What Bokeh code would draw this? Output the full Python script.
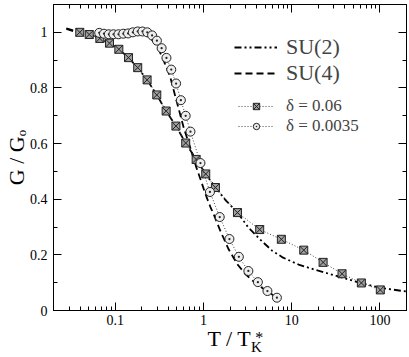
import math
from bokeh.plotting import figure
from bokeh.models import (FixedTicker, LogAxis, LinearAxis, Legend, LegendItem,
                          CustomJSTickFormatter)
from bokeh.embed import file_html
from bokeh.resources import INLINE

# ---- data ----
su2_T = [0.028, 0.0397, 0.0508, 0.067, 0.0862, 0.11, 0.1416, 0.18, 0.23, 0.296, 0.378, 0.488,
         0.63, 0.827, 1.06, 1.37, 1.8, 2.43, 3.2, 4.3, 6.0, 8.0, 12, 20, 35, 60, 100, 200]
su2_G = [1.014, 1.0, 0.992, 0.978, 0.961, 0.939, 0.909, 0.873, 0.829, 0.775, 0.717, 0.663,
         0.602, 0.543, 0.491, 0.442, 0.395, 0.352, 0.30, 0.258, 0.215, 0.19, 0.165, 0.143, 0.121, 0.099, 0.082, 0.068]

su4_T = [0.028, 0.04, 0.055, 0.07, 0.09, 0.12, 0.15, 0.19, 0.23, 0.27, 0.31, 0.36, 0.42, 0.48,
         0.55, 0.6, 0.71, 0.82, 0.93, 1.05, 1.2, 1.31, 1.56, 1.93, 2.4, 3.0, 4.0, 5.3, 6.2]
su4_G = [1.012, 0.996, 0.988, 0.984, 0.983, 0.986, 0.991, 0.995, 0.99, 0.968, 0.94, 0.893, 0.84, 0.77,
         0.70, 0.655, 0.585, 0.52, 0.47, 0.42, 0.372, 0.345, 0.285, 0.22, 0.168, 0.13, 0.095, 0.068, 0.055]

d06_T = [0.0397, 0.0508, 0.067, 0.0862, 0.11, 0.1416, 0.18, 0.23, 0.296, 0.378, 0.488, 0.63,
         0.827, 1.062, 1.367, 2.43, 4.34, 7.64, 13.7, 22.7, 37.2, 61.6, 101]
d06_G = [1.0, 0.992, 0.978, 0.961, 0.939, 0.909, 0.873, 0.829, 0.775, 0.717, 0.663, 0.602,
         0.543, 0.491, 0.442, 0.352, 0.291, 0.256, 0.217, 0.173, 0.132, 0.099, 0.074]

d0035_T = [0.0659, 0.0746, 0.0847, 0.0957, 0.109, 0.1236, 0.14, 0.1585, 0.18, 0.204, 0.231, 0.262,
           0.297, 0.336, 0.381, 0.432, 0.49, 0.555, 0.629, 0.713, 0.925, 1.185, 1.53, 1.97, 2.52,
           3.23, 4.14, 5.31, 6.8]
d0035_G = [0.998, 0.995, 0.993, 0.993, 0.993, 0.995, 0.996, 1.0, 1.003, 1.003, 1.0, 0.989,
           0.970, 0.943, 0.908, 0.866, 0.816, 0.756, 0.700, 0.643, 0.530, 0.426, 0.336, 0.257, 0.193,
           0.142, 0.102, 0.070, 0.046]

x_ticks = [0.1, 1, 10, 100]
x_tick_labels = ["0.1", "1", "10", "100"]
x_minor = [0.02, 0.03, 0.04, 0.05, 0.06, 0.07, 0.08, 0.09,
           0.2, 0.3, 0.4, 0.5, 0.6, 0.7, 0.8, 0.9,
           2, 3, 4, 5, 6, 7, 8, 9,
           20, 30, 40, 50, 60, 70, 80, 90, 200]
y_ticks = [0, 0.2, 0.4, 0.6, 0.8, 1.0]
y_tick_labels = ["0", "0.2", "0.4", "0.6", "0.8", "1"]
y_minor = [0.1, 0.3, 0.5, 0.7, 0.9]

x_title, x_title_sup, x_title_sub = "T / T", "*", "K"
y_title = "G / G\u2092"
legend_labels = ["SU(2)", "SU(4)", "δ = 0.06", "δ = 0.0035"]

FONT = "Liberation Serif"
X0, X1, Y0, Y1 = 0.02, 200, 0.0, 1.1
FL, FT, FR, FB, W, H = 52, 3, 407, 313, 409, 357   # frame edges in canvas pixels

p = figure(width=W, height=H, x_axis_type="log", x_range=(X0, X1), y_range=(Y0, Y1),
           output_backend="svg", toolbar_location=None,
           min_border_left=FL, min_border_right=W - FR, min_border_top=FT, min_border_bottom=H - FB)
p.grid.visible = False
p.outline_line_color = "black"
p.outline_line_width = 1
p.background_fill_color = "white"
p.border_fill_color = "white"

def px_to_x(px):
    return 10 ** (math.log10(X0) + (px - FL) * (math.log10(X1) - math.log10(X0)) / (FR - FL))

xt = FixedTicker(ticks=x_ticks, minor_ticks=x_minor)
yt = FixedTicker(ticks=y_ticks, minor_ticks=y_minor)

fmt_code = "const i = tvals.indexOf(tick); return i >= 0 ? tlabs[i] : '';"

def style_axis(ax, tv, tl):
    ax.axis_line_color = "black"
    ax.major_tick_in = 8
    ax.major_tick_out = 0
    ax.minor_tick_in = 4
    ax.minor_tick_out = 0
    ax.major_tick_line_color = "black"
    ax.minor_tick_line_color = "black"
    ax.major_label_text_font = FONT
    ax.major_label_text_color = "black"
    ax.major_label_text_font_size = "14px"
    ax.formatter = CustomJSTickFormatter(args=dict(tvals=tv, tlabs=tl), code=fmt_code)

xa = p.xaxis[0]
xa.ticker = xt
style_axis(xa, x_ticks, x_tick_labels)
xa.major_label_standoff = 4

ya = p.yaxis[0]
ya.ticker = yt
style_axis(ya, y_ticks, y_tick_labels)
ya.major_label_standoff = 6
ya.axis_label = y_title
ya.axis_label_text_font = FONT
ya.axis_label_text_font_size = "22px"
ya.axis_label_text_font_style = "normal"
ya.axis_label_text_color = "black"
ya.axis_label_standoff = -2

top = LogAxis(ticker=xt)
style_axis(top, x_ticks, [" " for _ in x_ticks])
top.major_label_text_font_size = "1px"
top.major_label_standoff = 0
p.add_layout(top, "above")
right = LinearAxis(ticker=yt)
style_axis(right, y_ticks, [" " for _ in y_ticks])
right.major_label_text_font_size = "1px"
right.major_label_standoff = 0
p.add_layout(right, "right")

# ---- x title with super/subscript: stacked text-only axes below the x axis ----
def text_axis(at, text, size, standoff):
    ax = LogAxis()
    ax.ticker = FixedTicker(ticks=[px_to_x(at)], minor_ticks=[])
    ax.formatter = CustomJSTickFormatter(args=dict(txt=text), code="return txt;")
    ax.axis_line_color = None
    ax.major_tick_line_color = None
    ax.minor_tick_line_color = None
    ax.major_tick_in = 0
    ax.major_tick_out = 0
    ax.minor_tick_in = 0
    ax.minor_tick_out = 0
    ax.major_label_standoff = standoff
    ax.major_label_text_font = FONT
    ax.major_label_text_font_size = size
    ax.major_label_text_color = "black"
    p.add_layout(ax, "below")

text_axis(259, x_title_sup, "16px", 1)
text_axis(229, x_title, "22px", -23)
text_axis(256, x_title_sub, "15px", -15)

# ---- series ----
r_su2 = p.line(su2_T, su2_G, line_color="black", line_width=1.8, line_dash="7 3 2 3 2 3")
r_su4 = p.line(su4_T, su4_G, line_color="black", line_width=1.8, line_dash="7 4")

r_l06 = p.line(d06_T, d06_G, line_color="#444444", line_width=1, line_dash="1 2")
r_s06 = p.scatter(d06_T, d06_G, marker="square_x", size=8, fill_color="#a0a0a0",
                  line_color="#222222", line_width=1)
r_l35 = p.line(d0035_T, d0035_G, line_color="#444444", line_width=1, line_dash="1 2")
r_s35 = p.scatter(d0035_T, d0035_G, marker="circle_dot", size=9, fill_color="#eeeeee",
                  line_color="#222222", line_width=1)

legA = Legend(items=[LegendItem(label=legend_labels[0], renderers=[r_su2]),
                     LegendItem(label=legend_labels[1], renderers=[r_su4])],
              location=(181, 224), glyph_width=43, glyph_height=22, label_height=22,
              label_standoff=9, spacing=0, padding=0, margin=0,
              label_text_font=FONT, label_text_font_size="22px",
              border_line_color=None, background_fill_alpha=0)
legB = Legend(items=[LegendItem(label=legend_labels[2], renderers=[r_l06, r_s06]),
                     LegendItem(label=legend_labels[3], renderers=[r_l35, r_s35])],
              location=(185, 174), glyph_width=36, glyph_height=16, label_height=16,
              label_standoff=12, spacing=0, padding=0, margin=0,
              label_text_font=FONT, label_text_font_size="17px",
              border_line_color=None, background_fill_alpha=0)
p.add_layout(legA)
p.add_layout(legB)

open("out.html", "w").write(file_html(p, INLINE))
